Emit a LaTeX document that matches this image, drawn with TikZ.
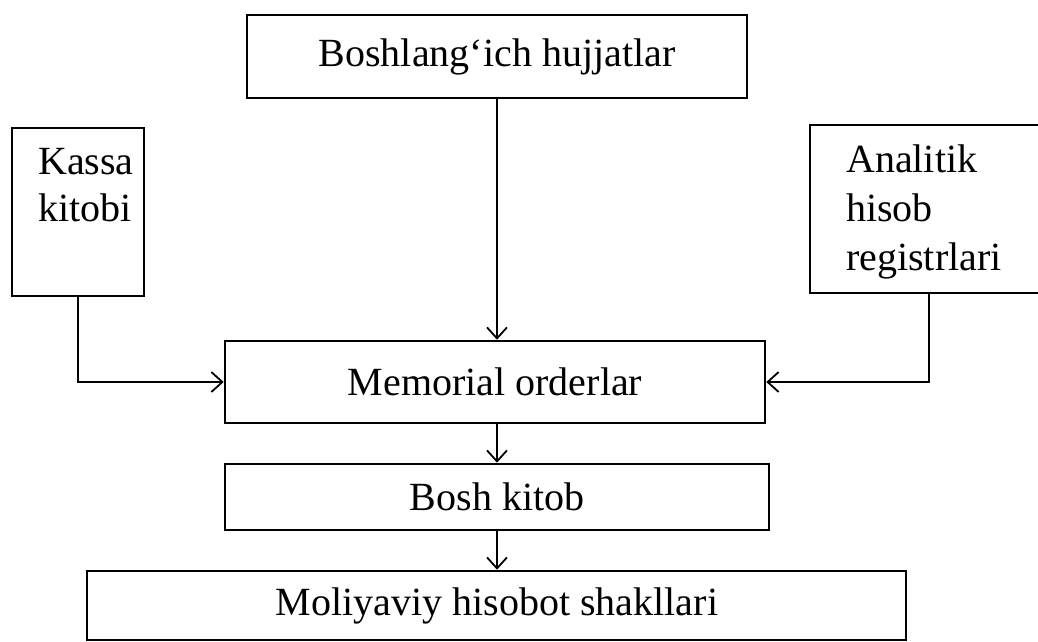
\documentclass[tikz,border=0pt]{standalone}
\usepackage{fontspec}
\setmainfont{Liberation Serif}
\usetikzlibrary{arrows.meta}
\begin{document}
\begin{tikzpicture}[x=1pt,y=-1pt,
  font=\fontsize{40}{48}\selectfont,
  boxnode/.style={draw=black, line width=2.6pt, inner sep=0pt},
  txtnode/.style={inner sep=0pt},
  conn/.style={line width=2pt, -{Straight Barb[length=11pt,width=20pt,line width=1.8pt]}},
  plainconn/.style={line width=2pt}]
\useasboundingbox (0,0) rectangle (1038,641);
% boxes
\node[boxnode, minimum width=500pt, minimum height=83pt] (top) at (497,56.5) {Boshlang‘ich hujjatlar};
\node[boxnode, minimum width=132pt, minimum height=168pt] (kassa) at (78,212) {};
\node[txtnode, anchor=north west, align=left, font=\fontsize{40}{47}\selectfont] (kassatxt) at (38,148) {Kassa\\kitobi};
\node[boxnode, minimum width=238pt, minimum height=168pt] (anal) at (929,209) {};
\node[txtnode, anchor=north west, align=left, font=\fontsize{40}{49}\selectfont] (analtxt) at (846,145) {Analitik\\hisob\\registrlari};
\node[boxnode, minimum width=540pt, minimum height=82pt] (mem) at (495,382) {Memorial orderlar};
\node[boxnode, minimum width=544pt, minimum height=66pt] (bosh) at (497,497) {Bosh kitob};
\node[boxnode, minimum width=819pt, minimum height=69pt] (mol) at (496.5,605.5) {};
\node[txtnode, anchor=base] (moltxt) at (497,615) {Moliyaviy hisobot shakllari};
% connectors
\draw[conn] (top.south) -- (top.south |- mem.north);
\draw[conn] (mem.south -| top.south) -- (bosh.north -| top.south);
\draw[conn] (bosh.south -| top.south) -- (mol.north -| top.south);
\draw[conn] (kassa.south) |- (mem.west);
\draw[conn] (anal.south) |- (mem.east);
\end{tikzpicture}
\end{document}
